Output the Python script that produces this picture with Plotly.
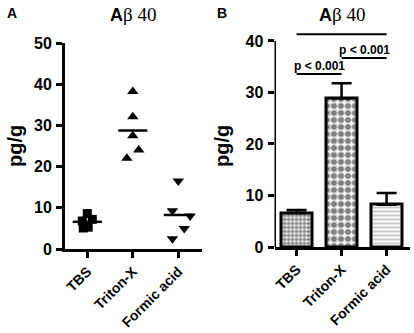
import plotly.graph_objects as go

categories = ["TBS", "Triton-X", "Formic acid"]

# Panel A: individual values
tbs_vals = [8.6, 6.8, 7.2, 5.1, 5.3]
triton_vals = [38.2, 32.1, 27.5, 24.0, 22.0]
formic_vals = [16.5, 9.3, 8.0, 5.0, 2.5]
tbs_jit = [0.0, -0.11, 0.11, -0.09, 0.02]
triton_jit = [0.0, 0.0, 0.0, 0.13, -0.13]
formic_jit = [0.0, -0.13, 0.26, 0.13, -0.13]

# Panel B: means and SEM
bar_means = [6.6, 28.9, 8.2]
bar_errs = [0.6, 2.9, 2.3]

# significance comparisons (from index, to index, height, label)
sig_pairs = [(0, 1, 33.6, "p < 0.001"), (1, 2, 36.7, "p < 0.001"), (0, 2, 41.3, "")]

yticksA = [0, 10, 20, 30, 40, 50]
yticksB = [0, 10, 20, 30, 40]

FONT = "Liberation Sans, Arial, sans-serif"
fig = go.Figure()

idx = list(range(len(categories)))
groups = [(tbs_vals, tbs_jit, "square", 9), (triton_vals, triton_jit, "triangle-up", 10),
          (formic_vals, formic_jit, "triangle-down", 10)]
for i, (vals, jit, sym, sz) in enumerate(groups):
    fig.add_trace(go.Scatter(x=[i + j for j in jit], y=vals, mode="markers",
                             marker=dict(symbol=sym, size=sz, color="black"),
                             xaxis="x", yaxis="y", showlegend=False))
    m = sum(vals) / len(vals)
    fig.add_trace(go.Scatter(x=[i - 0.32, i + 0.32], y=[m, m], mode="lines",
                             line=dict(color="black", width=2.5),
                             xaxis="x", yaxis="y", showlegend=False))

patterns = [dict(shape=".", size=4, solidity=0.65, fgcolor="black", bgcolor="white"),
            dict(shape=".", size=7, solidity=0.6, fgcolor="black", bgcolor="white"),
            dict(shape="-", size=4, solidity=0.3, fgcolor="#444", bgcolor="white")]
for i in idx:
    fig.add_trace(go.Bar(x=[i], y=[bar_means[i]], width=0.69,
                         marker=dict(color="white", line=dict(color="black", width=3),
                                     pattern=patterns[i]),
                         error_y=dict(type="data", array=[bar_errs[i]], arrayminus=[0],
                                      symmetric=False, color="black", thickness=2.5, width=10),
                         xaxis="x2", yaxis="y2", showlegend=False))

shapes = []
annotations = []
for a, b, h, lab in sig_pairs:
    shapes.append(dict(type="line", xref="x2", yref="y2", x0=a, x1=b, y0=h, y1=h,
                       line=dict(color="black", width=2)))
    if lab:
        annotations.append(dict(x=(a + b) / 2, y=h, xref="x2", yref="y2", text="<b>" + lab + "</b>",
                                showarrow=False, xanchor="center", yanchor="bottom", yshift=-1,
                                font=dict(size=12, family=FONT, color="black")))
# y axis line for panel B (only up to 40)
shapes.append(dict(type="line", xref="x2", yref="y2", x0=-0.49, x1=-0.49, y0=0, y1=40,
                   line=dict(color="black", width=3)))

title_txt = ("<b>A</b><span style='font-family:Liberation Serif, Times New Roman, serif;"
             "font-size:19px'>β 40</span>")
annotations += [
    dict(x=342 / 414, y=1 - 14 / 333, text=title_txt, font=dict(size=18, family=FONT, color="black")),
    dict(x=133 / 414, y=1 - 14 / 333, text=title_txt, font=dict(size=18, family=FONT, color="black")),
    dict(x=12 / 414, y=1 - 13 / 333, text="<b>A</b>", font=dict(size=14, family=FONT, color="black")),
    dict(x=222 / 414, y=1 - 13 / 333, text="<b>B</b>", font=dict(size=14, family=FONT, color="black")),
    dict(x=15 / 414, y=1 - 146 / 333, text="<b>pg/g</b>", textangle=-90,
         font=dict(size=20, family=FONT, color="black")),
    dict(x=222 / 414, y=1 - 146 / 333, text="<b>pg/g</b>", textangle=-90,
         font=dict(size=20, family=FONT, color="black")),
]
for a in annotations[-6:]:
    a.update(xref="paper", yref="paper", showarrow=False, xanchor="center", yanchor="middle")

xtickfont = dict(size=14, family=FONT, color="black")
ytickfont = dict(size=16, family=FONT, color="black")
xcommon = dict(tickmode="array", tickvals=idx, ticktext=["<b>" + c + "</b>" for c in categories],
               tickangle=-45, automargin=False,
               range=[-0.49, 2.52], showline=True, linecolor="black", linewidth=3,
               ticks="outside", ticklen=6, tickwidth=3, tickcolor="black",
               showgrid=False, zeroline=False, tickfont=xtickfont)
ycommon = dict(ticks="outside", ticklen=6, tickwidth=3, tickcolor="black", ticklabelstandoff=1,
               automargin=False, showgrid=False, zeroline=False, tickfont=ytickfont)

fig.update_layout(
    width=414, height=333, margin=dict(l=0, r=0, t=0, b=0, autoexpand=False),
    paper_bgcolor="white", plot_bgcolor="white",
    xaxis=dict(domain=[65 / 414, 202 / 414], anchor="y", **xcommon),
    yaxis=dict(domain=[1 - 249 / 333, 1 - 43 / 333], anchor="x", range=[0, 50],
               tickvals=yticksA, ticktext=["<b>%d</b>" % v for v in yticksA],
               showline=True, linecolor="black", linewidth=3, **ycommon),
    xaxis2=dict(domain=[274.5 / 414, 410 / 414], anchor="y2", **xcommon),
    yaxis2=dict(domain=[1 - 247 / 333, 1 - 25.5 / 333], anchor="x2", range=[0, 43],
                tickvals=yticksB, ticktext=["<b>%d</b>" % v for v in yticksB],
                showline=False, **ycommon),
    shapes=shapes, annotations=annotations, bargap=0,
)

fig.write_html("out.html", config={"displayModeBar": False},
               post_script="document.body.style.margin='0';document.body.style.overflow='hidden';")
